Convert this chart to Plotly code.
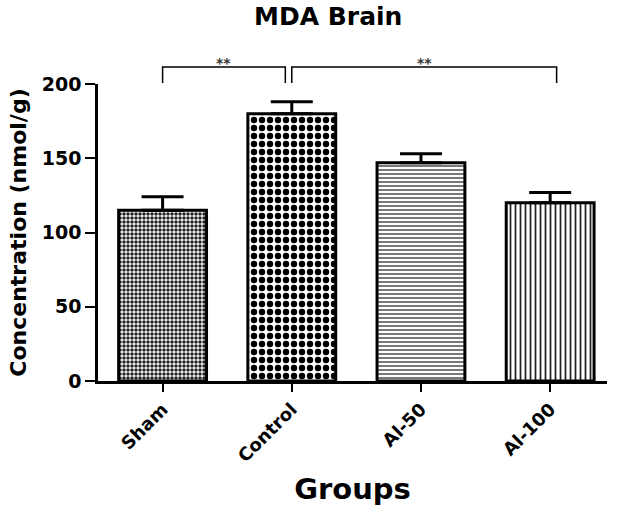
import plotly.graph_objects as go

# data
groups = ["Sham", "Control", "Al-50", "Al-100"]
mda = [115, 180, 147, 120]
sem = [9, 8, 6, 7]
no_minus = [0, 0, 0, 0]

# bar fill patterns, one per group
pat_shape = [".", ".", "-", "|"]
pat_size = [4, 8, 4, 5]
pat_solid = [0.6, 0.5, 0.4, 0.35]
pat_fg = ["#222222", "#000000", "#555555", "#222222"]

FONT = "DejaVu Sans, sans-serif"

fig = go.Figure()
fig.add_trace(go.Bar(
    x=groups,
    y=mda,
    width=0.68,
    marker=dict(
        color="white",
        line=dict(color="black", width=3),
        pattern=dict(shape=pat_shape, size=pat_size, solidity=pat_solid,
                     fgcolor=pat_fg, bgcolor="white", fillmode="replace"),
    ),
    error_y=dict(type="data", symmetric=False, array=sem, arrayminus=no_minus,
                 color="black", thickness=3, width=21),
    showlegend=False,
))

# significance brackets: (x start, x end, label)
brackets = [(0, 0.95, "**"), (1.0, 3.05, "**")]
for x0, x1, lab in brackets:
    fig.add_shape(type="path", xref="x", yref="paper",
                  path=f"M {x0},1.003 L {x0},1.057 L {x1},1.057 L {x1},1.003",
                  line=dict(color="black", width=1.5))
    fig.add_annotation(x=(x0 + x1) / 2, y=1.104, xref="x", yref="paper",
                       text=lab, showarrow=False,
                       font=dict(family=FONT, size=14, color="#333333", weight="bold"))

fig.update_layout(
    width=617, height=510,
    margin=dict(l=98, r=10, t=84, b=129),
    plot_bgcolor="white", paper_bgcolor="white",
    title=dict(text="MDA Brain", x=0.532, xanchor="center", y=0.968,
               yanchor="middle", font=dict(family=FONT, size=25, color="black", weight="bold")),
    font=dict(family=FONT, color="black"),
)
fig.update_xaxes(
    range=[-0.5, 3.44],
    showline=True, linecolor="black", linewidth=2.5,
    ticks="outside", ticklen=8, tickwidth=2, tickcolor="black",
    tickangle=-45,
    tickfont=dict(family=FONT, size=18, color="black", weight="bold"),
    title=dict(text="Groups", font=dict(family=FONT, size=29, weight="bold"), standoff=14),
    showgrid=False,
)
fig.update_yaxes(
    range=[0, 200], tickvals=[0, 50, 100, 150, 200],
    showline=True, linecolor="black", linewidth=2.5,
    ticks="outside", ticklen=10, tickwidth=2, tickcolor="black",
    tickfont=dict(family=FONT, size=19, color="black", weight="bold"),
    title=dict(text="Concentration (nmol/g)", font=dict(family=FONT, size=22, weight="bold"), standoff=10),
    showgrid=False, zeroline=False,
)

fig.write_html("out.html", config={"displayModeBar": False},
               post_script="document.body.style.margin='0';")
